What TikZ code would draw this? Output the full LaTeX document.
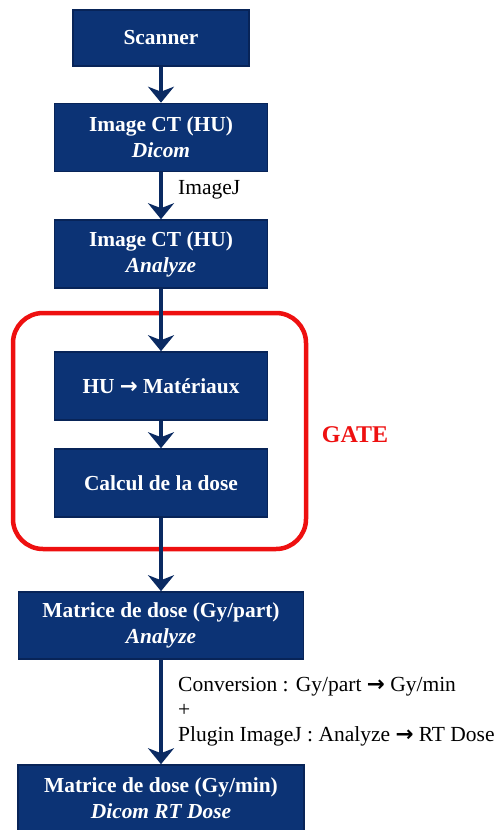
\documentclass[tikz,border=0pt]{standalone}
\usepackage{fontspec}
\setmainfont{Liberation Serif}
\newfontfamily\arrfont{DejaVu Sans}
\usetikzlibrary{arrows.meta}
\definecolor{navy}{RGB}{12,51,117}
\definecolor{navyedge}{RGB}{8,36,88}
\definecolor{navyarrow}{RGB}{10,42,98}
\definecolor{gatered}{RGB}{238,16,16}
\newcommand{\rarr}{{\arrfont\bfseries →}}
\tikzset{
  box/.style={draw=navyedge, line width=1.6pt, fill=navy, text=white,
    font=\fontsize{21.4}{26}\selectfont\bfseries, align=center,
    inner sep=0pt, minimum width=213pt, minimum height=68pt},
  flow/.style={draw=navyarrow, line width=4pt,
    -{Stealth[length=16pt,width=26pt,inset=5pt]}},
  lbl/.style={font=\fontsize{21.5}{25}\selectfont, align=left, anchor=west, inner sep=0pt}
}
\begin{document}
\begin{tikzpicture}[x=1pt,y=-1pt]
\useasboundingbox (0,0) rectangle (500,830);
\draw[gatered, line width=4.5pt, rounded corners=30pt] (13,313) rectangle (306,549);
\node[box, minimum width=176pt, minimum height=56pt] (scan) at (161,38) {Scanner};
\node[box] (dicom) at (161,137.5) {Image CT (HU)\\\textit{Dicom}};
\node[box] (analyze) at (161,254) {Image CT (HU)\\\textit{Analyze}};
\node[box] (hu) at (161,386) {HU \rarr{} Matériaux};
\node[box] (calc) at (161,483) {Calcul de la dose};
\node[box, minimum width=285pt, minimum height=67pt] (mat) at (161,625.5) {Matrice de dose (Gy/part)\\\textit{Analyze}};
\node[box, minimum width=286pt, minimum height=67pt] (fin) at (161,798.5) {Matrice de dose (Gy/min)\\\textit{Dicom RT Dose}};
\node[text=gatered, font=\fontsize{24}{28}\selectfont\bfseries] (gate) at (355,435) {GATE};
\node[lbl] (ij) at (178,190) {ImageJ};
\node[lbl] (conv) at (178,712) {Conversion : Gy/part \rarr{} Gy/min\\+\\Plugin ImageJ : Analyze \rarr{} RT Dose};
\draw[flow] (scan.south) -- (dicom.north);
\draw[flow] (dicom.south) -- (analyze.north);
\draw[flow] (analyze.south) -- (hu.north);
\draw[flow] (hu.south) -- (calc.north);
\draw[flow] (calc.south) -- (mat.north);
\draw[flow] (mat.south) -- (fin.north);
\end{tikzpicture}
\end{document}
